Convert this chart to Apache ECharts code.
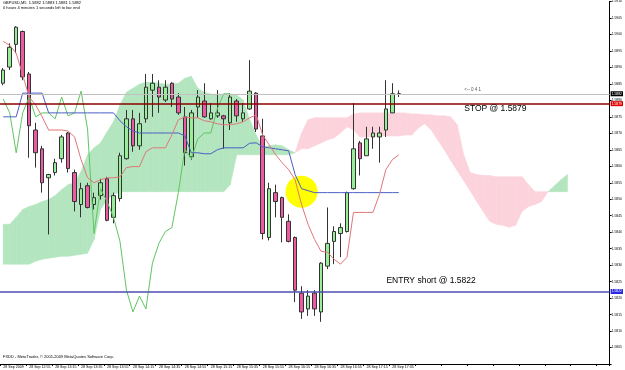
<!DOCTYPE html>
<html>
<head>
<meta charset="utf-8">
<script src="https://cdn.jsdelivr.net/npm/echarts@6.0.0/dist/echarts.min.js"></script>
<style>
  html, body { margin: 0; padding: 0; background: #fff; }
  #chart { width: 625px; height: 370px; }
</style>
</head>
<body>
<div id="chart"></div>
<script>
// GBPUSD M5, 28 Sep 2009, bars from 12:35 to 17:40
var opens = [
  1.58852, 1.58901, 1.58970, 1.59009, 1.58880, 1.58710, 1.58653, 1.58565, 1.58581, 1.58623,
  1.58701, 1.58581, 1.58484, 1.58541, 1.58484, 1.58511, 1.58562, 1.58445, 1.58502, 1.58623,
  1.58744, 1.58662, 1.58744, 1.58831, 1.58840, 1.58801, 1.58852, 1.58810, 1.58750, 1.58629,
  1.58780, 1.58798, 1.58744, 1.58753, 1.58753, 1.58732, 1.58798, 1.58744, 1.58774, 1.58822,
  1.58692, 1.58384, 1.58520, 1.58505, 1.58433, 1.58384, 1.58215, 1.58167, 1.58215, 1.58158,
  1.58297, 1.58372, 1.58396, 1.58402, 1.58532, 1.58671, 1.58632, 1.58689, 1.58689, 1.58710,
  1.58762, 1.58820
];
var closes = [
  1.58892, 1.58961, 1.59022, 1.58871, 1.58723, 1.58641, 1.58550, 1.58575, 1.58611, 1.58689,
  1.58593, 1.58493, 1.58532, 1.58475, 1.58505, 1.58550, 1.58436, 1.58511, 1.58632, 1.58744,
  1.58662, 1.58729, 1.58840, 1.58852, 1.58810, 1.58840, 1.58804, 1.58762, 1.58641, 1.58762,
  1.58810, 1.58750, 1.58762, 1.58762, 1.58744, 1.58810, 1.58753, 1.58762, 1.58828, 1.58713,
  1.58396, 1.58532, 1.58493, 1.58445, 1.58372, 1.58224, 1.58158, 1.58206, 1.58167, 1.58306,
  1.58366, 1.58402, 1.58414, 1.58520, 1.58653, 1.58623, 1.58683, 1.58701, 1.58701, 1.58774,
  1.58820, 1.58820
];
var lows = [
  1.58846, 1.58892, 1.58943, 1.58861, 1.58626, 1.58596, 1.58520, 1.58393, 1.58572, 1.58611,
  1.58581, 1.58463, 1.58445, 1.58472, 1.58469, 1.58499, 1.58433, 1.58427, 1.58493, 1.58620,
  1.58644, 1.58650, 1.58732, 1.58750, 1.58762, 1.58795, 1.58780, 1.58756, 1.58602, 1.58620,
  1.58747, 1.58747, 1.58741, 1.58747, 1.58653, 1.58710, 1.58735, 1.58735, 1.58771, 1.58704,
  1.58378, 1.58375, 1.58445, 1.58369, 1.58369, 1.58188, 1.58137, 1.58146, 1.58146, 1.58128,
  1.58288, 1.58303, 1.58324, 1.58399, 1.58529, 1.58572, 1.58632, 1.58653, 1.58611, 1.58689,
  1.58762, 1.58810
];
var highs = [
  1.58898, 1.58973, 1.59025, 1.59012, 1.58886, 1.58732, 1.58662, 1.58577, 1.58623, 1.58695,
  1.58704, 1.58590, 1.58550, 1.58550, 1.58520, 1.58562, 1.58568, 1.58520, 1.58641, 1.58771,
  1.58771, 1.58762, 1.58880, 1.58880, 1.58861, 1.58861, 1.58855, 1.58822, 1.58780, 1.58771,
  1.58831, 1.58852, 1.58792, 1.58831, 1.58756, 1.58822, 1.58804, 1.58792, 1.58922, 1.58825,
  1.58744, 1.58550, 1.58544, 1.58508, 1.58454, 1.58387, 1.58236, 1.58224, 1.58224, 1.58309,
  1.58475, 1.58418, 1.58427, 1.58523, 1.58792, 1.58677, 1.58720, 1.58720, 1.58720, 1.58861,
  1.58852, 1.58830
];

// Ichimoku lines
var tenkan = [
  1.58979, 1.58967, 1.58943, 1.58877, 1.58810, 1.58786, 1.58750, 1.58710, 1.58710, 1.58710,
  1.58707, 1.58689, 1.58620, 1.58565, 1.58550, 1.58559, 1.58565, 1.58565, 1.58568, 1.58596,
  1.58599, 1.58599, 1.58644, 1.58656, 1.58656, 1.58656, 1.58695, 1.58741, 1.58750, 1.58747,
  1.58747, 1.58738, 1.58735, 1.58729, 1.58726, 1.58726, 1.58729, 1.58735, 1.58747, 1.58756,
  1.58695, 1.58665, 1.58635, 1.58611, 1.58590, 1.58559, 1.58484, 1.58424, 1.58378, 1.58342,
  1.58339, 1.58318, 1.58303, 1.58324, 1.58460, 1.58460, 1.58460, 1.58460, 1.58514, 1.58590,
  1.58620, 1.58635
];
var kijun = [
  1.58750, 1.58750, 1.58750, 1.58822, 1.58822, 1.58822, 1.58822, 1.58762, 1.58762, 1.58762,
  1.58762, 1.58762, 1.58762, 1.58762, 1.58762, 1.58762, 1.58762, 1.58762, 1.58738, 1.58720,
  1.58707, 1.58701, 1.58701, 1.58701, 1.58701, 1.58701, 1.58701, 1.58701, 1.58692, 1.58641,
  1.58641, 1.58638, 1.58638, 1.58650, 1.58656, 1.58656, 1.58656, 1.58656, 1.58670, 1.58671,
  1.58659, 1.58656, 1.58653, 1.58650, 1.58647, 1.58575, 1.58532, 1.58526, 1.58520, 1.58520,
  1.58520, 1.58520, 1.58520, 1.58520, 1.58520, 1.58520, 1.58520, 1.58520, 1.58520, 1.58520,
  1.58520, 1.58520
];
var chikou = [
  1.58804, 1.58762, 1.58641, 1.58762, 1.58810, 1.58750, 1.58762, 1.58762, 1.58744, 1.58810,
  1.58753, 1.58762, 1.58828, 1.58713, 1.58396, 1.58532, 1.58493, 1.58445, 1.58372, 1.58224,
  1.58158, 1.58206, 1.58167, 1.58306, 1.58366, 1.58402, 1.58414, 1.58520, 1.58653, 1.58623,
  1.58683, 1.58701, 1.58701, 1.58774, 1.58820, 1.58820
];
var spanA = [
  1.58424, 1.58424, 1.58445, 1.58469, 1.58478, 1.58484, 1.58493, 1.58499, 1.58511, 1.58529,
  1.58544, 1.58550, 1.58584, 1.58635, 1.58656, 1.58671, 1.58704, 1.58735, 1.58786, 1.58825,
  1.58837, 1.58849, 1.58855, 1.58855, 1.58852, 1.58849, 1.58849, 1.58852, 1.58867, 1.58873,
  1.58837, 1.58825, 1.58819, 1.58819, 1.58819, 1.58819, 1.58816, 1.58801, 1.58741, 1.58695,
  1.58659, 1.58662, 1.58665, 1.58662, 1.58650, 1.58641, 1.58653, 1.58653, 1.58662, 1.58671,
  1.58680, 1.58686, 1.58701, 1.58720, 1.58710, 1.58689, 1.58689, 1.58689, 1.58692, 1.58692,
  1.58692, 1.58692, 1.58695, 1.58695, 1.58716, 1.58729, 1.58710, 1.58680, 1.58650, 1.58617,
  1.58587, 1.58556, 1.58526, 1.58493, 1.58463, 1.58433, 1.58424, 1.58421, 1.58415, 1.58421,
  1.58463, 1.58478, 1.58484, 1.58493, 1.58523, 1.58541, 1.58559, 1.58575
];
var spanB = [
  1.58303, 1.58303, 1.58303, 1.58303, 1.58303, 1.58312, 1.58318, 1.58321, 1.58324, 1.58327,
  1.58327, 1.58330, 1.58333, 1.58336, 1.58378, 1.58469, 1.58499, 1.58514, 1.58523, 1.58523,
  1.58523, 1.58523, 1.58523, 1.58523, 1.58523, 1.58523, 1.58523, 1.58523, 1.58523, 1.58523,
  1.58523, 1.58523, 1.58523, 1.58523, 1.58523, 1.58544, 1.58635, 1.58635, 1.58635, 1.58635,
  1.58635, 1.58635, 1.58635, 1.58635, 1.58635, 1.58641, 1.58701, 1.58741, 1.58747, 1.58747,
  1.58747, 1.58747, 1.58747, 1.58747, 1.58759, 1.58762, 1.58762, 1.58762, 1.58762, 1.58762,
  1.58762, 1.58762, 1.58762, 1.58759, 1.58759, 1.58756, 1.58756, 1.58753, 1.58753, 1.58750,
  1.58726, 1.58635, 1.58581, 1.58575, 1.58572, 1.58572, 1.58568, 1.58568, 1.58568, 1.58568,
  1.58568, 1.58544, 1.58523, 1.58523, 1.58523, 1.58523, 1.58523, 1.58523
];

var tickLabels = [
  '28 Sep 2009', '28 Sep 12:55', '28 Sep 13:15', '28 Sep 13:35', '28 Sep 13:55',
  '28 Sep 14:15', '28 Sep 14:35', '28 Sep 14:55', '28 Sep 15:15', '28 Sep 15:35',
  '28 Sep 15:55', '28 Sep 16:15', '28 Sep 16:35', '28 Sep 16:55', '28 Sep 17:15',
  '28 Sep 17:35'
];

var stopLevel = 1.5879;
var entryLevel = 1.5822;
var bidLevel = 1.5882;

var GREEN_CLOUD = '#b3e5bf';
var PINK_CLOUD = '#fcd3dc';

// 94 slots: 62 bars plus the cloud projected forward
var slots = [];
for (var s = 0; s < 94; s++) {
  var m = 12 * 60 + 35 + 5 * s;
  slots.push(Math.floor(m / 60) + ':' + ('0' + (m % 60)).slice(-2));
}

var ohlc = opens.map(function (o, i) {
  return [o, closes[i], lows[i], highs[i]];
});

var cloudData = [];
for (var k = 0; k < spanA.length - 1; k++) {
  cloudData.push([k, spanA[k], spanB[k], spanA[k + 1], spanB[k + 1]]);
}

function renderCloud(params, api) {
  var i = api.value(0);
  var a0 = api.value(1), b0 = api.value(2), a1 = api.value(3), b1 = api.value(4);
  var pa0 = api.coord([i, a0]), pb0 = api.coord([i, b0]);
  var pa1 = api.coord([i + 1, a1]), pb1 = api.coord([i + 1, b1]);
  var d0 = a0 - b0, d1 = a1 - b1;
  var children = [];
  function poly(points, up) {
    var c = up ? GREEN_CLOUD : PINK_CLOUD;
    children.push({
      type: 'polygon',
      shape: { points: points },
      style: { fill: c, stroke: c, lineWidth: 0.6 }
    });
  }
  if (d0 * d1 >= 0) {
    poly([pa0, pa1, pb1, pb0], d0 + d1 > 0);
  } else {
    var t = d0 / (d0 - d1);
    var pc = [pa0[0] + t * (pa1[0] - pa0[0]), pa0[1] + t * (pa1[1] - pa0[1])];
    poly([pa0, pc, pb0], d0 > 0);
    poly([pc, pa1, pb1], d1 > 0);
  }
  return { type: 'group', children: children };
}

var chart = echarts.init(document.getElementById('chart'), null, { renderer: 'canvas' });

var option = {
  animation: false,
  backgroundColor: '#fff',
  textStyle: { fontFamily: 'Liberation Sans, Arial, sans-serif' },
  grid: { left: 0, right: 15, top: 1, bottom: 6 },
  xAxis: {
    type: 'category',
    data: slots,
    boundaryGap: true,
    axisLine: { show: true, lineStyle: { color: '#000', width: 1 } },
    axisTick: { show: true, interval: 3, length: 2, lineStyle: { color: '#000' } },
    axisLabel: {
      show: true,
      interval: 3,
      align: 'left',
      margin: 1,
      fontSize: 3.6,
      color: '#000',
      formatter: function (v, idx) {
        return tickLabels[idx / 4] || '';
      }
    },
    splitLine: { show: false }
  },
  yAxis: {
    type: 'value',
    position: 'right',
    min: 1.58,
    max: 1.591,
    interval: 0.0005,
    axisLine: { show: true, lineStyle: { color: '#000', width: 1 } },
    axisTick: { show: true, length: 2, lineStyle: { color: '#000' } },
    axisLabel: {
      margin: 2,
      fontSize: 3.4,
      color: '#000',
      formatter: function (v) {
        return v < 1.58025 ? '' : v.toFixed(4);
      }
    },
    splitLine: { show: false }
  },
  graphic: [
    {
      type: 'text', left: 3, top: 1,
      style: { text: 'GBPUSD,M5  1.5882 1.5883 1.5881 1.5882', fontSize: 4, fill: '#000', fontFamily: 'Liberation Sans' }
    },
    {
      type: 'text', left: 3, top: 6,
      style: { text: '0 hours 4 minutes 1 seconds left to bar end', fontSize: 4, fill: '#000', fontFamily: 'Liberation Sans' }
    },
    {
      type: 'text', left: 3, top: 355,
      style: { text: 'FXDD - MetaTrader, \u00a9 2001-2009 MetaQuotes Software Corp.', fontSize: 4, fill: '#000', fontFamily: 'Liberation Sans' }
    }
  ],
  series: [
    {
      name: 'cloud',
      type: 'custom',
      renderItem: renderCloud,
      data: cloudData,
      encode: { x: 0, y: [1, 2] },
      silent: true,
      z: 1
    },
    {
      name: 'marker',
      type: 'scatter',
      data: [[46, 1.58523]],
      symbol: 'circle',
      symbolSize: 32,
      itemStyle: { color: '#ffff00', opacity: 1 },
      silent: true,
      z: 2
    },
    {
      name: 'GBPUSD',
      type: 'candlestick',
      data: ohlc,
      barWidth: 4,
      itemStyle: {
        color: '#98ee98',
        color0: '#eb5aa2',
        borderColor: '#333',
        borderColor0: '#333',
        borderWidth: 1
      },
      z: 3
    },
    {
      name: 'chikou',
      type: 'line',
      data: chikou,
      symbol: 'none',
      lineStyle: { color: '#5fc65f', width: 1 },
      silent: true,
      z: 4
    },
    {
      name: 'kijun',
      type: 'line',
      data: kijun,
      symbol: 'none',
      lineStyle: { color: '#4b5fc4', width: 1 },
      silent: true,
      z: 4
    },
    {
      name: 'tenkan',
      type: 'line',
      data: tenkan,
      symbol: 'none',
      lineStyle: { color: '#e07777', width: 1 },
      silent: true,
      z: 4,
      markLine: {
        silent: true,
        precision: 5,
        symbol: ['none', 'none'],
        label: {
          show: true,
          position: 'end',
          distance: 1,
          color: '#fff',
          fontSize: 3.4,
          padding: [1, 1],
          formatter: function (p) { return Number(p.value).toFixed(4); }
        },
        data: [
          { yAxis: bidLevel, lineStyle: { color: '#c0c0c0', width: 1, type: 'solid' }, label: { backgroundColor: '#000' } },
          { yAxis: stopLevel, lineStyle: { color: '#8b0000', width: 1.6, type: 'solid' }, label: { backgroundColor: '#e00000' } },
          { yAxis: entryLevel, lineStyle: { color: '#4c4cb0', width: 1.6, type: 'solid' }, label: { backgroundColor: '#2a2ae0' } }
        ]
      },
      markPoint: {
        silent: true,
        symbol: 'rect',
        symbolSize: 1,
        itemStyle: { color: 'rgba(0,0,0,0)' },
        label: {
          show: true,
          position: 'right',
          distance: 0,
          color: '#000',
          fontSize: 8.5,
          fontFamily: 'Liberation Sans'
        },
        data: [
          { coord: [71, 1.58774], label: { formatter: 'STOP @ 1.5879' } },
          { coord: [59, 1.58254], label: { formatter: 'ENTRY short @ 1.5822' } },
          { coord: [71, 1.58831], label: { formatter: '<-- 0 4 1', fontSize: 4.5, color: '#555' } }
        ]
      }
    }
  ]
};

chart.setOption(option);
</script>
</body>
</html>
